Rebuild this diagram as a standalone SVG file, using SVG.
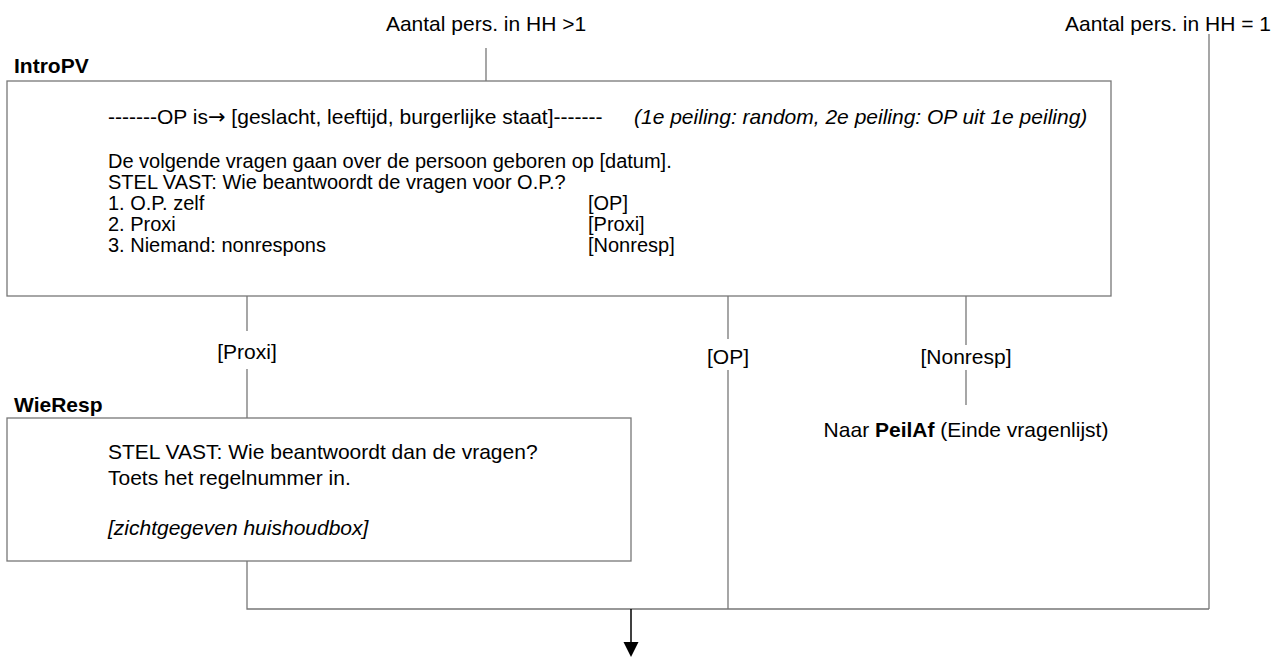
<svg xmlns="http://www.w3.org/2000/svg" width="1273" height="658" viewBox="0 0 1273 658">
<defs>
<style>
text{font-family:"Liberation Sans",Arial,sans-serif;font-size:21px;fill:#000}
.s{font-size:20px}
.b{font-weight:bold}
.i{font-style:italic}
.m{text-anchor:middle}
.ar{font-family:"DejaVu Sans",sans-serif}
.box{fill:#fff;stroke:#777;stroke-width:1.3}
.ln{fill:none;stroke:#777;stroke-width:1.3}
</style>
</defs>
<rect width="1273" height="658" fill="#fff"/>
<g id="connectors">
<line class="ln" x1="486" y1="48" x2="486" y2="81"/>
<line class="ln" x1="1209" y1="34" x2="1209" y2="609"/>
<line class="ln" x1="247" y1="296" x2="247" y2="331"/>
<line class="ln" x1="247" y1="369" x2="247" y2="418"/>
<line class="ln" x1="728" y1="296" x2="728" y2="339"/>
<line class="ln" x1="728" y1="370" x2="728" y2="609"/>
<line class="ln" x1="966" y1="296" x2="966" y2="345"/>
<line class="ln" x1="966" y1="370" x2="966" y2="405"/>
<polyline class="ln" points="247,561 247,609 1209,609"/>
<line x1="631" y1="609" x2="631" y2="644" stroke="#000" stroke-width="1.5"/>
<polygon points="623.5,642 638.5,642 631,657" fill="#000"/>
<text class="m" x="486" y="31">Aantal pers. in HH &gt;1</text>
<text x="1271" y="31" text-anchor="end">Aantal pers. in HH = 1</text>
<text class="m" x="247" y="359">[Proxi]</text>
<text class="m" x="728" y="364">[OP]</text>
<text class="m" x="966" y="364">[Nonresp]</text>
<text class="m" x="966" y="437">Naar <tspan class="b">PeilAf</tspan> (Einde vragenlijst)</text>
</g>
<g id="IntroPV">
<text class="b" x="14" y="73">IntroPV</text>
<rect class="box" x="7" y="81" width="1104" height="215"/>
<text x="108" y="124">-------OP is<tspan class="ar">→</tspan> [geslacht, leeftijd, burgerlijke staat]-------</text>
<text class="i" x="634" y="124">(1e peiling: random, 2e peiling: OP uit 1e peiling)</text>
<text class="s" x="108" y="168">De volgende vragen gaan over de persoon geboren op [datum].</text>
<text class="s" x="108" y="189">STEL VAST: Wie beantwoordt de vragen voor O.P.?</text>
<text class="s" x="108" y="210">1. O.P. zelf</text>
<text class="s" x="588" y="210">[OP]</text>
<text class="s" x="108" y="231">2. Proxi</text>
<text class="s" x="588" y="231">[Proxi]</text>
<text class="s" x="108" y="252">3. Niemand: nonrespons</text>
<text class="s" x="588" y="252">[Nonresp]</text>
</g>
<g id="WieResp">
<text class="b" x="14" y="412">WieResp</text>
<rect class="box" x="7" y="418" width="624" height="143"/>
<text x="108" y="459">STEL VAST: Wie beantwoordt dan de vragen?</text>
<text x="108" y="485">Toets het regelnummer in.</text>
<text class="i" x="108" y="535">[zichtgegeven huishoudbox]</text>
</g>
</svg>
